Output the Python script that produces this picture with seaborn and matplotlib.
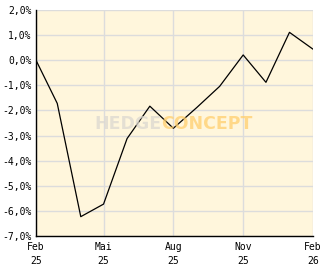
import matplotlib
matplotlib.use("Agg")
import matplotlib.pyplot as plt
from matplotlib.ticker import MultipleLocator, FuncFormatter
import seaborn as sns
import pandas as pd

dates = ["2025-02-01", "2025-03-01", "2025-04-01", "2025-05-01", "2025-06-01",
         "2025-07-01", "2025-08-01", "2025-09-01", "2025-10-01", "2025-11-01",
         "2025-12-01", "2026-01-01", "2026-02-01"]
values = [0.0, -1.72, -6.23, -5.73, -3.12, -1.83, -2.71, -1.88, -1.04, 0.21,
          -0.88, 1.11, 0.44]
tick_dates = ["2025-02-01", "2025-05-01", "2025-08-01", "2025-11-01", "2026-02-01"]
tick_labels = ["Feb\n25", "Mai\n25", "Aug\n25", "Nov\n25", "Feb\n26"]

df = pd.DataFrame({"date": pd.to_datetime(dates), "value": values})

sns.set_theme(style="white")
plt.rcParams['font.family'] = ['DejaVu Sans Mono', 'DejaVu Sans']

fig = plt.figure(figsize=(3.32, 2.69), dpi=100)
ax = fig.add_axes([36/332, 33/269, 277/332, 226/269])
ax.set_facecolor("#fff6dc")

sns.lineplot(data=df, x="date", y="value", ax=ax, color="black", linewidth=0.9, zorder=3)

ax.set_xlim(pd.Timestamp("2025-02-01"), pd.Timestamp("2026-02-01"))
ax.set_ylim(-7, 2)
ax.set_xticks(pd.to_datetime(tick_dates))
ax.set_xticklabels(tick_labels)
ax.yaxis.set_major_locator(MultipleLocator(1))
ax.yaxis.set_minor_locator(MultipleLocator(0.5))
ax.yaxis.set_major_formatter(FuncFormatter(lambda v, p: f"{v:.1f}%".replace(".", ",")))

ax.grid(True, which="major", color="#dcdcdc", linewidth=1, zorder=0)
ax.set_axisbelow(True)
for s in ["top", "right"]:
    ax.spines[s].set_visible(False)
for s in ["left", "bottom"]:
    ax.spines[s].set_color("black")
    ax.spines[s].set_linewidth(1)

ax.tick_params(axis="both", which="both", direction="in", length=4, width=1,
               color="black", labelsize=7, labelcolor="black")
ax.tick_params(axis="y", which="major", pad=3)
ax.tick_params(axis="x", which="major", pad=4)
for lbl in ax.get_xticklabels():
    lbl.set_linespacing(1.6)
ax.set_xlabel("")
ax.set_ylabel("")

fig.text(161/332, 1 - 124/269, "HEDGE", color="#dcd8d0", alpha=0.75, fontsize=12.5,
         fontweight="bold", ha="right", va="center", family="DejaVu Sans", zorder=5)
fig.text(161/332, 1 - 124/269, "CONCEPT", color="#ffcf6e", alpha=0.75, fontsize=12.5,
         fontweight="bold", ha="left", va="center", family="DejaVu Sans", zorder=5)

fig.savefig("out.png", dpi=100)
